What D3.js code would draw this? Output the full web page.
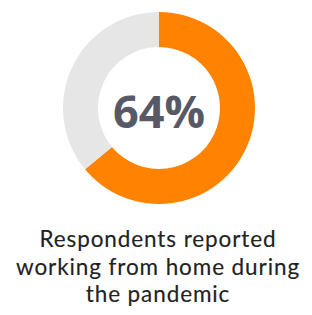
<!DOCTYPE html>
<html>
<head>
<meta charset="utf-8">
<script src="https://cdn.jsdelivr.net/npm/d3@7"></script>
<style>
  body { margin: 0; background: #fff; }
  svg { display: block; }
</style>
</head>
<body>
<div id="chart"></div>
<script>
// data
var labels = ["Worked from home", "Did not"];
var values = [64, 36];
var colors = ["#ff8300", "#e6e6e6"];
var centerLabel = "64%";
var caption = ["Respondents reported", "working from home during", "the pandemic"];

var width = 312, height = 315;
var cx = 159, cy = 108;

var svg = d3.select("#chart").append("svg")
    .attr("width", width)
    .attr("height", height);

var g = svg.append("g").attr("transform", "translate(" + cx + "," + cy + ")");

var pie = d3.pie().sort(null).value(function(d) { return d; });
var arc = d3.arc().innerRadius(61).outerRadius(96);

g.selectAll("path")
    .data(pie(values))
    .enter().append("path")
    .attr("d", arc)
    .style("fill", function(d, i) { return colors[i]; });

// big number in the middle
g.append("text")
    .attr("text-anchor", "middle")
    .attr("y", 20)
    .style("font-family", "'Open Sans', sans-serif")
    .style("font-weight", "bold")
    .style("font-size", "45px")
    .style("fill", "#575966")
    .text(centerLabel);

// caption under the donut (Lato keeps the line boxes from touching)
svg.append("g").selectAll("text")
    .data(caption)
    .enter().append("text")
    .attr("x", 158)
    .attr("y", function(d, i) { return 247 + i * 27.5; })
    .attr("text-anchor", "middle")
    .style("font-family", "Lato, sans-serif")
    .style("font-size", "22.5px")
    .style("letter-spacing", "0.9px")
    .style("stroke", "#222")
    .style("stroke-width", 0.15)
    .style("fill", "#222")
    .text(function(d) { return d; });
</script>
</body>
</html>
